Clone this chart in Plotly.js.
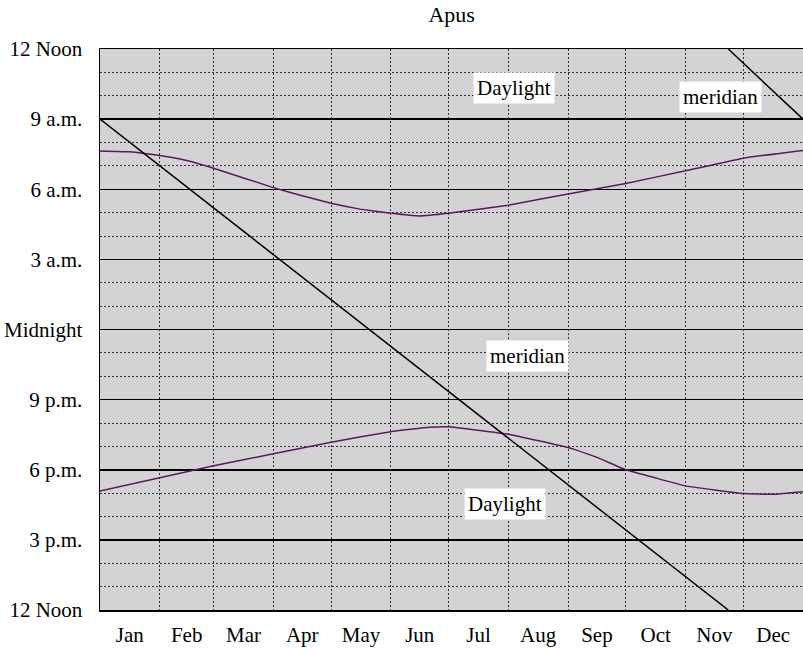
<!DOCTYPE html>
<html>
<head>
<meta charset="utf-8">
<script src="https://cdn.plot.ly/plotly-3.0.1.min.js"></script>
<style>html,body{margin:0;padding:0;background:#fff;}#chart{width:803px;height:651px;}</style>
</head>
<body>
<div id="chart"></div>
<script>
// Month labels and boundaries (day of year)
var months = ["Jan","Feb","Mar","Apr","May","Jun","Jul","Aug","Sep","Oct","Nov","Dec"];
var monthMid = [15.5,45,74.5,105,135.5,166,196.5,227.5,258,288.5,319,349.5];
var monthStart = [31,59,90,120,151,181,212,243,273,304,334];

// Y ticks: hours after noon (0 = 12 Noon bottom, 24 = 12 Noon top)
var hourTicks = [0,3,6,9,12,15,18,21,24];
var hourLabels = ["12 Noon","3 p.m.","6 p.m.","9 p.m.","Midnight","3 a.m.","6 a.m.","9 a.m.","12 Noon"];

// Morning curve (hours after noon)
var riseDays  = [0,15,31,45,59,90,105,120,135,151,166,181,212,243,273,304,334,365];
var riseHours = [19.64,19.6,19.44,19.23,18.9,18.07,17.72,17.4,17.15,16.97,16.86,16.97,17.32,17.8,18.25,18.79,19.33,19.66];

// Evening curve (hours after noon)
var setDays  = [0,31,59,90,120,151,171,181,212,243,258,273,288,304,334,350,365];
var setHours = [5.09,5.66,6.17,6.68,7.18,7.63,7.82,7.84,7.52,6.95,6.53,6.0,5.66,5.31,4.98,4.95,5.06];

// Meridian line (two segments, wrapping at 12 Noon)
var meridianDays  = [0,326.2,null,326.2,365];
var meridianHours = [21,0,null,24,21];

var serif = "Liberation Serif";

var traces = [
  {x: riseDays, y: riseHours, mode: "lines", line: {color: "#5a1a5a", width: 1.5, shape: "spline", smoothing: 0.3}, hoverinfo: "skip"},
  {x: setDays, y: setHours, mode: "lines", line: {color: "#5a1a5a", width: 1.5, shape: "spline", smoothing: 0.3}, hoverinfo: "skip"},
  {x: meridianDays, y: meridianHours, mode: "lines", connectgaps: false, line: {color: "#000", width: 1.5}, hoverinfo: "skip"}
];

var layout = {
  width: 803, height: 651,
  margin: {l: 100, r: 0, t: 49, b: 41, pad: 0},
  paper_bgcolor: "#ffffff",
  plot_bgcolor: "rgb(211,211,214)",
  showlegend: false,
  font: {family: serif, size: 21, color: "#000"},
  title: {text: "Apus", x: 0.5625, xanchor: "center", y: 1 - 14/651, yanchor: "middle", yref: "container", xref: "container",
          font: {family: serif, size: 22, color: "#000"}},
  xaxis: {
    range: [0, 365], fixedrange: true,
    tickmode: "array", tickvals: monthMid, ticktext: months,
    ticks: "", showgrid: false, zeroline: false,
    showline: true, linecolor: "#000", linewidth: 1.5, mirror: true,
    ticklabelstandoff: 5,
    tickfont: {family: serif, size: 21, color: "#000"},
    minor: {tickmode: "array", tickvals: monthStart, showgrid: true, gridcolor: "#333", gridwidth: 1, griddash: "2px,2px", ticks: ""}
  },
  yaxis: {
    range: [0, 24], fixedrange: true,
    tickmode: "array", tickvals: hourTicks, ticktext: hourLabels,
    ticks: "", showgrid: true, gridcolor: "#000", gridwidth: 1.5, zeroline: false,
    showline: true, linecolor: "#000", linewidth: 1.5,
    ticklabelstandoff: 12,
    tickfont: {family: serif, size: 21, color: "#000"},
    minor: {dtick: 1, showgrid: true, gridcolor: "#333", gridwidth: 1, griddash: "2px,2px", ticks: ""}
  },
  annotations: [
    {x: 215.2, y: 22.34, xref: "x", yref: "y", text: "Daylight", showarrow: false, bgcolor: "#fff", borderpad: 3, font: {family: serif, size: 21, color: "#000"}},
    {x: 322.1, y: 21.93, xref: "x", yref: "y", text: "meridian", showarrow: false, bgcolor: "#fff", borderpad: 3, font: {family: serif, size: 21, color: "#000"}},
    {x: 222.2, y: 10.87, xref: "x", yref: "y", text: "meridian", showarrow: false, bgcolor: "#fff", borderpad: 3, font: {family: serif, size: 21, color: "#000"}},
    {x: 210.5, y: 4.54, xref: "x", yref: "y", text: "Daylight", showarrow: false, bgcolor: "#fff", borderpad: 3, font: {family: serif, size: 21, color: "#000"}}
  ]
};

Plotly.newPlot("chart", traces, layout, {staticPlot: true, displayModeBar: false});
</script>
</body>
</html>
